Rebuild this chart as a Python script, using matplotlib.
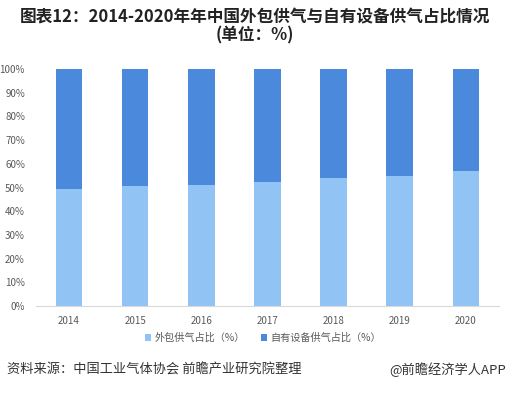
import numpy as np
import matplotlib.pyplot as plt
from matplotlib.ticker import PercentFormatter

plt.rcParams['font.family'] = ['Noto Sans CJK SC', 'DejaVu Sans']

# data (share of supply, %)
years = ['2014', '2015', '2016', '2017', '2018', '2019', '2020']
outsourced = [49.2, 50.8, 51.0, 52.4, 54.0, 54.9, 57.1]
own_equipment = [100 - v for v in outsourced]

light_blue = '#91c3f5'
dark_blue = '#4a89dc'

fig = plt.figure(figsize=(5.10, 3.97), dpi=100)
ax = fig.add_axes([0.0706, 0.2292, 0.9074, 0.597])

x = np.arange(len(years))
ax.bar(x, outsourced, width=0.4, color=light_blue, label='外包供气占比（%）')
ax.bar(x, own_equipment, width=0.4, bottom=outsourced, color=dark_blue,
       label='自有设备供气占比（%）')

ax.set_xlim(-0.5, len(years) - 0.5)
ax.set_ylim(0, 100)
ax.set_yticks(np.arange(0, 101, 10))
ax.yaxis.set_major_formatter(PercentFormatter(decimals=0))
ax.set_xticks(x)
ax.set_xticklabels(years)
ax.tick_params(axis='both', length=0, labelsize=7, labelcolor='#595959')
ax.tick_params(axis='x', pad=7)
ax.tick_params(axis='y', pad=8)
for side in ['top', 'right', 'left']:
    ax.spines[side].set_visible(False)
ax.spines['bottom'].set_color('#d9d9d9')

ax.legend(loc='center', bbox_to_anchor=(0.49, -0.135), ncol=2, frameon=False,
          fontsize=7.3, handlelength=0.6, handleheight=0.6, handletextpad=0.3,
          columnspacing=1.6, labelcolor='#595959')

fig.text(0.5, 0.957, '图表12：2014-2020年年中国外包供气与自有设备供气占比情况',
         ha='center', va='center', fontsize=12, fontweight='bold', color='#222222')
fig.text(0.5, 0.91, '(单位：%)', ha='center', va='center', fontsize=12,
         fontweight='bold', color='#222222')

fig.text(0.014, 0.068, '资料来源：中国工业气体协会 前瞻产业研究院整理',
         ha='left', va='center', fontsize=9.5, color='#333333')
fig.text(0.993, 0.068, '@前瞻经济学人APP', ha='right', va='center',
         fontsize=9.5, color='#333333')

fig.savefig('out.png', dpi=100)
